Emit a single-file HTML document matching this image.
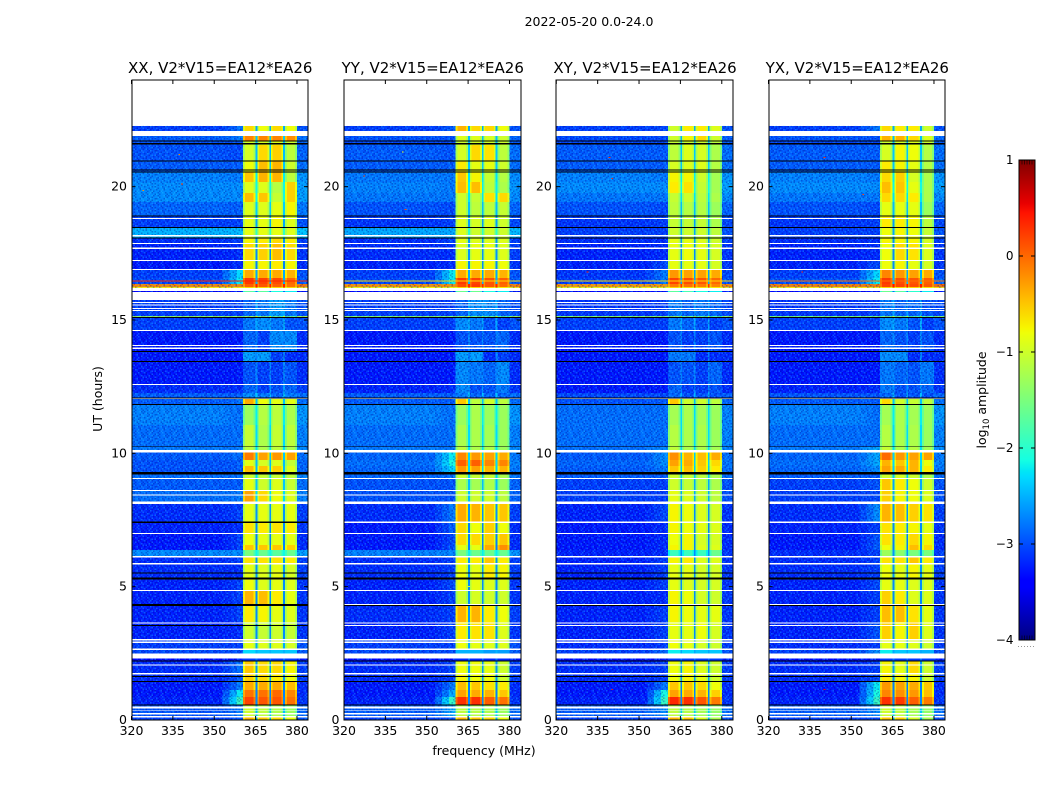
<!DOCTYPE html>
<html>
<head>
<meta charset="utf-8">
<title>2022-05-20 amplitude spectrogram</title>
<style>
html,body{margin:0;padding:0;background:#fff;}
svg{display:block;}
text{font-family:"DejaVu Sans","Liberation Sans",sans-serif;fill:#000;}
</style>
</head>
<body>
<svg id="chart" xmlns="http://www.w3.org/2000/svg" width="1050" height="800" viewBox="0 0 1050 800">
  <defs>
    <linearGradient id="jet-gradient" x1="0" y1="1" x2="0" y2="0"></linearGradient>
    <pattern id="bg-noise" patternUnits="userSpaceOnUse" x="0" y="0" width="24" height="24"></pattern>
  </defs>
  <rect x="0" y="0" width="1050" height="800" fill="#fff"/>
  <text x="589" y="26" font-size="12.5" text-anchor="middle">2022-05-20 0.0-24.0</text>
  <text transform="translate(102,399) rotate(-90)" font-size="12.5" text-anchor="middle">UT (hours)</text>
  <text x="484" y="755" font-size="12.5" text-anchor="middle">frequency (MHz)</text>
  <g id="panels"></g>
  <g id="colorbar"></g>
  <text transform="translate(986,400) rotate(-90)" font-size="12.5" text-anchor="middle">log<tspan font-size="8.5" dy="3">10</tspan><tspan dy="-3"> amplitude</tspan></text>
</svg>
<script>
// UT (hours) at the top edge of each band of rows
const rowTopsUT = [22.28,21.90,21.71,21.56,20.96,20.55,20.18,19.76,19.43,18.88,18.45,18.08,17.89,17.21,16.88,16.58,16.35,16.24,16.09,15.75,15.15,15.09,14.63,13.80,13.43,12.56,12.26,12.08,11.81,11.06,10.24,10.05,9.75,9.53,9.23,9.04,8.59,8.10,7.39,6.98,6.56,6.38,6.11,5.85,5.33,4.84,4.31,3.68,3.00,2.63,2.33,2.21,1.73,1.46,1.13,0.86,0.56,0.15];

// log10 amplitude per row band: background, sub-band 1-4, edge-of-band ramp
const rowsXX = [[-3.1,-.6,-.8,-.6,-.8,-2.85],[-2.95,-.15,-.15,-.15,-.2,-2.8],[-3.0,-.95,-.95,-.9,-1.0,-3.0],[-3.0,-.95,-.6,-.55,-1.1,-3.05],[-2.95,-.8,-.45,-.4,-1.0,-2.95],[-2.75,-.5,-.4,-.4,-1.1,-2.8],[-2.7,-.9,-.9,-1.15,-.55,-2.7],[-2.7,-.45,-.5,-1.05,-.55,-2.7],[-2.9,-.9,-.9,-.85,-.75,-2.95],[-3.1,-.85,-.85,-.75,-.9,-3.1],[-2.5,-.85,-.85,-.85,-.9,-2.45],[-3.2,-.75,-.7,-.6,-.7,-3.1],[-3.25,-.6,-.55,-.45,-.6,-3.2],[-3.3,-.75,-.75,-.7,-.75,-3.2],[-3.1,-.35,-.35,-.35,-.4,-2.3],[-3.05,.25,.2,.15,.0,-2.2],[-.15,.05,.1,.05,-.05,-.15],[-.7,-.6,-.6,-.6,-.6,-.7],[-3.4,-1.7,-1.7,-2.1,-2.2,-3.3],[-3.1,-2.9,-2.8,-2.6,-2.8,-3.1],[-1.3,-1.2,-1.4,-1.6,-1.6,-1.3],[-3.1,-2.8,-2.7,-2.8,-3.0,-3.1],[-3.3,-2.9,-3.1,-2.7,-2.7,-3.3],[-3.3,-2.6,-2.6,-3.1,-3.2,-3.3],[-3.3,-3.0,-3.1,-3.1,-3.0,-3.3],[-3.2,-2.9,-3.1,-3.0,-2.9,-3.2],[-2.95,-2.7,-2.8,-2.9,-2.8,-2.95],[-2.95,-.35,-.8,-.85,-.85,-2.85],[-2.75,-1.3,-1.15,-1.1,-1.2,-2.85],[-2.85,-1.05,-1.2,-1.05,-1.1,-2.85],[-2.8,-1.1,-1.2,-1.1,-1.2,-2.8],[-2.95,-.1,-.3,-.25,-.3,-2.85],[-3.0,-.85,-.95,-.9,-1.05,-2.95],[-3.0,-.45,-.5,-.55,-.9,-2.95],[-2.85,-1,-1.05,-1.05,-1.1,-2.85],[-2.95,-.85,-1.0,-.9,-1.05,-2.95],[-2.85,-.3,-.6,-.8,-.9,-2.8],[-3.2,-.85,-.85,-.85,-.85,-3.1],[-3.25,-.65,-.7,-.65,-.7,-3.2],[-3.3,-.8,-.85,-.85,-.85,-3.1],[-3.3,-.5,-.5,-.5,-.55,-3.1],[-2.7,-1.5,-1.6,-1.7,-1.6,-2.7],[-3.2,-.65,-.65,-.65,-.7,-3.1],[-3.2,-.85,-.9,-.85,-.95,-3.2],[-3.25,-.8,-.9,-.85,-.9,-3.1],[-3.25,-.4,-.45,-.7,-.85,-3.1],[-3.25,-.7,-.75,-.85,-.9,-3.1],[-3.25,-1.0,-1.05,-1.0,-1.05,-3.2],[-3.1,-.85,-.9,-.9,-.95,-3.1],[-3.05,-2.3,-2.4,-2.4,-2.4,-3.0],[-3.4,-3.1,-3.1,-3.1,-3.1,-3.3],[-3.2,-.5,-.6,-.6,-.75,-2.85],[-3.2,-.55,-.6,-.7,-.8,-3.0],[-3.3,-.35,-.35,-.35,-.45,-2.8],[-3.3,-.05,-.05,.0,-.15,-2.2],[-3.25,.2,.1,.1,-.05,-1.9],[-3.0,-1.0,-1.1,-1.2,-1.3,-2.8],[-3.1,-.4,-.5,-.6,-.8,-3.0]];
const rowsYY = [[-3.1,-.4,-.6,-.6,-.8,-2.95],[-3.0,-.9,-.9,-.95,-1.0,-3.0],[-3.05,-1,-1,-1,-1,-3.05],[-2.95,-.95,-.6,-.65,-1.1,-3.0],[-2.95,-.7,-.85,-.85,-1.0,-2.95],[-2.8,-.5,-.75,-1.05,-1.15,-2.8],[-2.75,-.45,-.45,-1.1,-1.2,-2.8],[-2.8,-1.0,-1.05,-.65,-.6,-2.8],[-3.0,-1.0,-1.1,-1.1,-1.05,-3.05],[-3.15,-.9,-.95,-.9,-1.0,-3.1],[-2.55,-.9,-1,-1,-1,-2.55],[-3.2,-.85,-.9,-.9,-.9,-3.1],[-3.2,-.9,-.85,-.85,-.9,-3.2],[-3.25,-.75,-.75,-.75,-.8,-3.2],[-3.1,-.35,-.35,-.35,-.4,-2.2],[-3.05,.25,.2,.1,.05,-2.2],[-.2,.15,.25,.1,.0,-.2],[-.75,-.6,-.6,-.6,-.7,-.75],[-3.4,-1.6,-1.6,-2.1,-2.2,-3.3],[-3.1,-2.9,-2.7,-2.7,-2.9,-3.1],[-1.4,-1.3,-1.5,-1.6,-1.7,-1.4],[-3.1,-2.7,-2.8,-3.0,-3.1,-3.1],[-3.3,-3.0,-3.0,-3.0,-2.9,-3.3],[-3.3,-2.6,-2.6,-3.2,-3.1,-3.3],[-3.3,-2.7,-2.8,-2.9,-2.7,-3.3],[-3.25,-2.7,-3.0,-3.0,-2.8,-3.2],[-2.95,-2.8,-2.9,-2.9,-2.9,-2.95],[-2.95,-.5,-1.1,-1.0,-1.1,-2.95],[-2.75,-1.3,-1.2,-1.3,-1.3,-2.85],[-2.85,-1.2,-1.2,-1.25,-1.3,-2.85],[-2.8,-1.1,-1.2,-1.2,-1.3,-2.8],[-2.9,-.15,-.25,-.3,-.35,-2.2],[-2.85,.05,.05,-.15,-.15,-2.1],[-2.9,-.25,-.3,-.4,-.4,-2.3],[-2.9,-1.0,-1.05,-1.05,-1.2,-2.85],[-3.0,-1.2,-1.25,-1.2,-1.3,-3.0],[-3.0,-1.0,-1.0,-1.0,-1.1,-3.0],[-3.2,-.35,-.4,-.5,-.5,-2.8],[-3.3,-.6,-.8,-.55,-.8,-2.95],[-3.3,-.6,-.6,-.55,-.5,-3.05],[-3.3,-.85,-.85,-.35,-.2,-3.0],[-2.75,-1.5,-1.6,-1.6,-1.6,-2.75],[-3.2,-.7,-.7,-.5,-.7,-3.1],[-3.2,-.8,-.85,-.7,-.75,-3.1],[-3.25,-.8,-.85,-.9,-.9,-3.05],[-3.25,-1.0,-.95,-1.0,-1.0,-3.1],[-3.2,-.4,-.4,-.7,-.8,-3.1],[-3.25,-.7,-.65,-.65,-.9,-3.1],[-3.1,-.8,-.85,-.9,-.9,-3.1],[-3.05,-2.5,-2.5,-2.6,-2.6,-3.05],[-3.4,-3.2,-3.2,-3.2,-3.2,-3.4],[-3.2,-.8,-.8,-.85,-1,-3.1],[-3.2,-.75,-.8,-.8,-1.0,-3.1],[-3.3,-.45,-.5,-.65,-.7,-2.8],[-3.3,-.3,-.35,-.4,-.5,-2.55],[-3.25,.3,.3,.05,-.05,-1.9],[-2.95,-1.1,-1.15,-1.2,-1.3,-2.55],[-3.1,-.4,-.5,-.6,-.8,-3.0]];
const rowsXY = [[-3.1,-1.0,-.7,-.7,-.9,-3.05],[-3.05,-1.0,-.75,-.6,-1.0,-3.05],[-3.05,-1.05,-1.0,-1.0,-1.1,-3.05],[-2.95,-1.1,-.9,-.95,-1.2,-2.95],[-2.95,-.95,-.9,-.9,-1.15,-2.95],[-2.75,-.75,-.75,-1.0,-1.25,-2.8],[-2.7,-.7,-.65,-1.05,-1.25,-2.7],[-2.8,-1.05,-1.0,-1.1,-1.2,-2.8],[-3.0,-1.1,-1.15,-1.15,-1.3,-3.05],[-3.15,-1.05,-1.05,-1.05,-1.2,-3.1],[-3.1,-1.0,-1.0,-1.0,-1.1,-3.1],[-3.2,-.85,-.85,-.9,-1.0,-3.2],[-3.25,-.85,-.8,-.85,-.95,-3.2],[-3.25,-.85,-.85,-.85,-.95,-3.05],[-3.15,-.25,-.3,-.3,-.35,-2.8],[-3.1,.2,.15,.1,.0,-2.8],[-.25,-.1,-.05,-.1,-.15,-.25],[-.75,-.6,-.65,-.65,-.7,-.75],[-3.4,-1.7,-1.8,-2.1,-2.2,-3.3],[-3.15,-2.8,-2.9,-2.8,-2.9,-3.1],[-1.4,-1.3,-1.5,-1.6,-1.7,-1.4],[-3.1,-2.8,-2.9,-3.0,-3.1,-3.1],[-3.3,-3.0,-3.1,-3.1,-3.0,-3.3],[-3.3,-2.8,-2.8,-3.2,-3.2,-3.3],[-3.3,-3.0,-3.0,-3.1,-2.9,-3.3],[-3.3,-2.9,-3.1,-3.1,-3.0,-3.3],[-3.05,-2.9,-3.0,-3.0,-3.0,-3.05],[-3.0,-.5,-1.0,-1.0,-1.1,-2.95],[-2.85,-1.25,-1.2,-1.25,-1.3,-2.85],[-2.85,-1.15,-1.2,-1.2,-1.3,-2.85],[-2.85,-1.1,-1.2,-1.2,-1.25,-2.7],[-2.95,-.2,-.4,-.45,-.35,-2.7],[-2.9,-.3,-.35,-.5,-.6,-2.7],[-2.95,-.5,-.45,-.55,-.7,-2.8],[-2.95,-1.0,-1.05,-1.1,-1.2,-2.95],[-3.1,-1.0,-1.05,-1.1,-1.2,-3.1],[-3.1,-.85,-.9,-1.0,-1.1,-3.1],[-3.25,-.75,-.8,-.9,-.95,-3.05],[-3.3,-.75,-.8,-.85,-.9,-3.2],[-3.3,-.8,-.75,-.95,-.95,-3.2],[-3.3,-.75,-.75,-.9,-.9,-3.2],[-3.25,-1.9,-1.9,-1.9,-1.6,-3.2],[-3.25,-.75,-.7,-.9,-.9,-3.1],[-3.25,-.85,-.85,-.95,-.95,-3.1],[-3.25,-.85,-.9,-.95,-.95,-3.1],[-3.25,-.75,-.8,-.95,-1.0,-3.2],[-3.25,-.75,-.8,-.85,-.85,-3.1],[-3.25,-.85,-.85,-.8,-.95,-3.1],[-3.2,-.8,-.85,-.95,-1,-3.1],[-3.1,-2.2,-2.3,-2.4,-2.4,-2.9],[-3.4,-3.1,-3.1,-3.1,-3.1,-3.3],[-3.2,-.8,-.75,-.9,-1.0,-3.1],[-3.2,-.8,-.75,-.85,-1.0,-3.1],[-3.3,-.5,-.5,-.6,-.8,-2.8],[-3.3,-.3,-.35,-.4,-.55,-2.1],[-3.25,.35,.3,.1,-.1,-1.9],[-2.95,-1.1,-1.15,-1.25,-1.35,-2.7],[-3.1,-.4,-.5,-.9,-1.2,-3.05]];
const rowsYX = [[-3.1,-.6,-.7,-.7,-1.0,-2.8],[-3.0,-.4,-.4,-.6,-.9,-3.0],[-3.05,-1,-.95,-.9,-1.0,-3.05],[-2.95,-.95,-.75,-.8,-1.15,-2.95],[-2.95,-.7,-.75,-.85,-1.15,-2.95],[-2.75,-.6,-.55,-.95,-1.2,-2.8],[-2.7,-.45,-.5,-.85,-1.2,-2.7],[-2.8,-.6,-.6,-.7,-1.2,-2.8],[-3.0,-.85,-.85,-.85,-1.3,-3.05],[-3.15,-.7,-.7,-.75,-1.1,-3.1],[-3.1,-.8,-.75,-.8,-1.05,-3.1],[-3.2,-.75,-.75,-.75,-.95,-3.2],[-3.25,-.8,-.6,-.65,-.9,-3.2],[-3.25,-.8,-.75,-.85,-.95,-3.05],[-3.1,-.15,-.25,-.3,-.35,-2.3],[-3.0,.25,.15,.1,.05,-2.2],[-.1,.2,.2,.15,.1,-.1],[-.7,-.6,-.6,-.6,-.65,-.7],[-3.4,-1.6,-1.7,-2.0,-2.2,-3.3],[-3.15,-2.8,-2.9,-2.9,-3.0,-3.1],[-1.5,-1.4,-1.5,-1.7,-1.7,-1.5],[-3.1,-2.7,-2.8,-3.0,-3.1,-3.1],[-3.3,-2.9,-3.0,-3.1,-3.0,-3.3],[-3.3,-2.7,-2.7,-3.2,-3.2,-3.3],[-3.3,-2.8,-2.9,-3.0,-2.8,-3.3],[-3.25,-2.8,-3.0,-3.0,-2.9,-3.2],[-3.0,-2.9,-3.0,-3.0,-3.0,-3.0],[-2.95,-.6,-1.0,-1.05,-1.1,-2.95],[-2.75,-1.25,-1.2,-1.25,-1.3,-2.85],[-2.85,-1.15,-1.2,-1.2,-1.3,-2.85],[-2.8,-1.05,-1.2,-1.15,-1.25,-2.55],[-2.9,.0,-.25,-.3,-.3,-2.55],[-2.85,-.4,-.5,-.4,-.8,-2.55],[-2.9,-.3,-.35,-.4,-.7,-2.7],[-2.95,-1.0,-.95,-1.0,-1.2,-2.95],[-3.1,-.5,-.7,-.8,-1.0,-3.0],[-3.1,-.55,-.75,-.8,-.9,-3.05],[-3.2,-.4,-.45,-.55,-.65,-2.7],[-3.25,-.65,-.7,-.75,-.85,-3.1],[-3.3,-.65,-.7,-.6,-.75,-3.0],[-3.3,-.8,-.75,-.45,-.6,-2.95],[-3.2,-1.3,-1.4,-1.5,-1.5,-3.1],[-3.2,-.65,-.65,-.5,-.7,-3.1],[-3.2,-.8,-.85,-.75,-.85,-3.1],[-3.25,-.85,-.85,-.9,-.9,-3.05],[-3.25,-.55,-.7,-.9,-.9,-3.1],[-3.25,-.45,-.45,-.65,-.85,-3.1],[-3.25,-.55,-.75,-.55,-.9,-3.0],[-3.2,-.85,-.85,-.9,-1,-3.1],[-3.1,-2.2,-2.4,-2.4,-2.5,-2.7],[-3.4,-3.1,-3.1,-3.1,-3.1,-3.3],[-3.2,-.75,-.85,-.6,-1.0,-3.1],[-3.2,-.7,-.75,-.75,-1.0,-3.05],[-3.3,-.25,-.3,-.35,-.5,-2.2],[-3.3,-.15,-.2,-.25,-.45,-2.1],[-3.25,.3,.25,.05,-.1,-1.9],[-2.95,-1.0,-1.1,-1.25,-1.35,-2.7],[-3.1,-.5,-.55,-.95,-1.2,-3.05]];

// rows with no data (white) and strongly flagged rows (black), as [start UT, end UT]
const whiteFlagsUT = [[22.09,21.90],[18.83,18.79],[18.19,18.14],[17.89,17.85],[17.71,17.67],[17.25,17.21],[16.91,16.88],[16.20,16.09],[16.05,15.75],[15.68,15.64],[15.58,15.54],[15.45,15.41],[15.38,15.34],[14.63,14.59],[14.06,14.03],[13.96,13.92],[12.60,12.56],[12.06,12.03],[10.13,10.04],[9.08,9.03],[8.63,8.58],[8.46,8.41],[8.19,8.10],[7.44,7.39],[7.02,6.98],[6.15,6.10],[5.89,5.84],[4.88,4.83],[4.35,4.31],[3.66,3.61],[3.56,3.53],[3.04,2.99],[2.94,2.89],[2.69,2.63],[2.50,2.31],[2.09,2.04],[1.76,1.71],[0.50,0.44],[0.36,0.33],[0.26,0.20],[0.15,0.09]];
const blackFlagsUT = [[21.74,21.70],[21.63,21.59],[20.99,20.95],[20.64,20.61],[20.56,20.53],[18.92,18.88],[18.49,18.45],[18.10,18.06],[15.11,15.08],[13.84,13.80],[13.46,13.43],[12.09,12.06],[11.85,11.81],[10.26,10.23],[9.30,9.21],[5.54,5.50],[5.34,5.27],[4.31,4.28],[2.24,2.20],[1.65,1.61],[1.46,1.43],[0.59,0.55]];
const blackFlagsXX = [[7.44,7.39],[3.56,3.53],[4.35,4.31]];

// thin full-width interference lines: [UT, log10 amplitude]
const linesXX = [[16.47,0.35]];
const linesYY = [[16.47,-0.6]];
const linesXY = [[16.47,-0.6]];
const linesYX = [[16.47,-0.05]];

// isolated bright spikes: [MHz, UT, log10 amplitude]
const spikesXX = [[351,21.98,-.6],[337,21.2,-.1],[338,20.1,.2],[324,19.85,-.2]];
const spikesYY = [[341,21.3,-.8],[327,20.4,.1],[342,19.15,.2],[365,5,-.9]];
const spikesXY = [[352,21.98,-.8],[339,21.1,.3],[340,20.3,.4],[331,16.8,.4],[340,1.15,.5]];
const spikesYX = [[352,21.98,-.8],[340,21.1,.3],[329,20.55,.4],[354,19.7,.2],[332,16.8,.4],[340,1.15,.5]];

// frequency edges (MHz)
const bandEdges = [[360.5,365],[365.6,370],[370.5,375],[375.6,380]];
const panelTitles = ["XX, V2*V15=EA12*EA26","YY, V2*V15=EA12*EA26","XY, V2*V15=EA12*EA26","YX, V2*V15=EA12*EA26"];
const xTicks = [320,335,350,365,380];
const yTicks = [0,5,10,15,20];
const cbTicks = [1,0,-1,-2,-3,-4];
// hand-placed speckle tile for the background: 0 none, 1 dark, 2 light, 3 bright
const noiseTile = ["0120310201203012","2013002130120201","1200231021002310","0312010203120021","2001302110200130","0210012030012203","1032100201320100","0201230310021032","3100201021003102","0120130020310201","2003012102001230","0312000321020013","1020310100231002","0201002301020130","2130120012003102","0012031020130020"];

const COL = {
  jetR:[[0,0],[.35,0],[.66,1],[.89,1],[1,.5]],
  jetG:[[0,0],[.125,0],[.375,1],[.64,1],[.91,0],[1,0]],
  jetB:[[0,.5],[.11,1],[.34,1],[.65,0],[1,0]]
};
function lerp(tab,t){
  for(let i=1;i<tab.length;i++){
    if(t<=tab[i][0]){
      const a=tab[i-1],b=tab[i];
      return a[1]+(b[1]-a[1])*(t-a[0])/(b[0]-a[0]);
    }
  }
  return tab[tab.length-1][1];
}
function jet(v){
  const t=Math.max(0,Math.min(1,(v+4)/5));
  const c=x=>Math.round(255*x);
  return 'rgb('+c(lerp(COL.jetR,t))+','+c(lerp(COL.jetG,t))+','+c(lerp(COL.jetB,t))+')';
}

const NS='http://www.w3.org/2000/svg';
function mk(tag,attrs,parent){
  const e=document.createElementNS(NS,tag);
  for(const k in attrs)e.setAttribute(k,attrs[k]);
  if(parent)parent.appendChild(e);
  return e;
}
const PANEL_W=176.5, Y0=720, PX_PER_H=26.667, PX_PER_MHZ=PANEL_W/64;
const yScale=ut=>Y0-ut*PX_PER_H;
const xScale=(mhz,left)=>left+(mhz-320)*PX_PER_MHZ;
const cbY=v=>640-(v+4)*96;

// gradient for colorbar
const grad=document.getElementById('jet-gradient');
[-4,-3.45,-3.375,-2.3,-2.125,-2.25,-1.75,-1.125,-0.8,-0.75,-0.45,0.45,0.55,1].sort((a,b)=>a-b).forEach(v=>{
  const stop=mk('stop',{offset:((v+4)/5).toFixed(4),'stop-color':jet(v)},grad);
  
  
});

// noise pattern
const pat=document.getElementById('bg-noise');
const noiseFill={1:['#000090',.3],2:['#00a0ff',.2],3:['#20d0ff',.34]};
noiseTile.forEach((row,j)=>{
  row.split('').forEach((ch,i)=>{
    if(ch==='0')return;
    const cell=mk('rect',{x:i*1.5,y:j*1.5,width:1.5,height:1.5,fill:noiseFill[ch][0],'fill-opacity':noiseFill[ch][1]},pat);
    
    
  });
});

function addCell(g,left,f0,f1,ut0,ut1,v){
  const x0=xScale(f0,left),x1=xScale(f1,left),y0=yScale(ut0),y1=yScale(ut1);
  const r=mk('rect',{x:x0.toFixed(2),y:y0.toFixed(2),width:(x1-x0).toFixed(2),height:(y1-y0).toFixed(2),fill:jet(v),'shape-rendering':'crispEdges'},g);
  
  
  return r;
}

function drawPanel(idx,left,rows,lines,spikes,extraBlack,key){
  const p=mk('g',{},document.getElementById('panels'));
  
  
  const cells=mk('g',{},p);
  
  
  rows.forEach((r,i)=>{
    const top=rowTopsUT[i], bot=i+1<rowTopsUT.length?rowTopsUT[i+1]:0;
    const bg=r[0], ramp=r[5];
    addCell(cells,left,320,353,top,bot,bg);
    addCell(cells,left,353,355.5,top,bot,bg+(ramp-bg)*.3);
    addCell(cells,left,355.5,358,top,bot,bg+(ramp-bg)*.65);
    addCell(cells,left,358,360.5,top,bot,ramp);
    bandEdges.forEach((e,b)=>{
      const v=r[b+1];
      const edge=v>-2?v-.3:v;
      addCell(cells,left,e[0],e[0]+.7,top,bot,edge);
      addCell(cells,left,e[0]+.7,e[1]-.7,top,bot,v);
      addCell(cells,left,e[1]-.7,e[1],top,bot,edge);
      if(b<3)addCell(cells,left,e[1],bandEdges[b+1][0],top,bot,bg+.55);
    });
    addCell(cells,left,380,384,top,bot,bg+.1);
  });
  const dataTop=yScale(rowTopsUT[0]), dataH=yScale(0)-dataTop;
  const n1=mk('rect',{x:xScale(320,left),y:dataTop,width:xScale(360.5,left)-xScale(320,left),height:dataH,fill:'url(#bg-noise)'},p);
  
  
  const n2=mk('rect',{x:xScale(380,left),y:dataTop,width:xScale(384,left)-xScale(380,left),height:dataH,fill:'url(#bg-noise)'},p);
  
  
  const quietTop=yScale(rowTopsUT[19]), quietBot=yScale(rowTopsUT[27]);
  const n3=mk('rect',{x:xScale(360.5,left),y:quietTop,width:xScale(380,left)-xScale(360.5,left),height:quietBot-quietTop,fill:'url(#bg-noise)'},p);
  
  
  lines.forEach(l=>{
    const c=addCell(p,left,320,384,l[0]+.019,l[0]-.019,l[1]);
    
  });
  spikes.forEach(s=>{
    const c=addCell(p,left,s[0],s[0]+.6,s[1]+.02,s[1]-.02,s[2]);
    
  });
  whiteFlagsUT.forEach(f=>{
    const w=mk('rect',{x:left,y:yScale(f[0]).toFixed(2),width:PANEL_W,height:(yScale(f[1])-yScale(f[0])).toFixed(2),fill:'#fff','shape-rendering':'crispEdges'},p);
    
    
  });
  blackFlagsUT.concat(extraBlack).forEach(f=>{
    const b=mk('rect',{x:left,y:yScale(f[0]).toFixed(2),width:PANEL_W,height:(yScale(f[1])-yScale(f[0])).toFixed(2),fill:'#000','shape-rendering':'crispEdges'},p);
    
    
  });
  // frame (sits on integer pixels so it antialiases to a soft grey, as in the original)
  const fx0=Math.round(left), fx1=Math.round(left+PANEL_W);
  const frame=mk('rect',{x:fx0,y:80,width:fx1-fx0,height:640,fill:'none',stroke:'#000','stroke-width':1},p);
  
  
  // ticks
  xTicks.forEach(t=>{
    const x=xScale(t,left);
    const a=mk('line',{x1:x,x2:x,y1:720,y2:716,stroke:'#000','stroke-width':1},p);
    
    
    const b=mk('line',{x1:x,x2:x,y1:80,y2:84,stroke:'#000','stroke-width':1},p);
    
    
    const l=mk('text',{x:x,y:735,'font-size':12.5,'text-anchor':'middle'},p);
    l.textContent=String(t);
    
    
  });
  yTicks.forEach(t=>{
    const y=yScale(t);
    const a=mk('line',{x1:left,x2:left+4,y1:y,y2:y,stroke:'#000','stroke-width':1},p);
    
    
    const b=mk('line',{x1:left+PANEL_W,x2:left+PANEL_W-4,y1:y,y2:y,stroke:'#000','stroke-width':1},p);
    
    
    const l=mk('text',{x:left-4.5,y:y+4,'font-size':12.5,'text-anchor':'end'},p);
    l.textContent=String(t);
    
    
  });
  const title=mk('text',{x:left+PANEL_W/2+.5,y:73,'font-size':15,'text-anchor':'middle'},p);
  title.textContent=panelTitles[idx];
  
  
}
drawPanel(0,131.5,rowsXX,linesXX,spikesXX,blackFlagsXX,'xx');
drawPanel(1,344,rowsYY,linesYY,spikesYY,[],'yy');
drawPanel(2,556.3,rowsXY,linesXY,spikesXY,[],'xy');
drawPanel(3,768.5,rowsYX,linesYX,spikesYX,[],'yx');

// colorbar
const cb=document.getElementById('colorbar');
const cbBody=mk('rect',{x:1019,y:160,width:16,height:480,fill:'url(#jet-gradient)',stroke:'#000','stroke-width':1},cb);


cbTicks.forEach(t=>{
  const y=cbY(t);
  const a=mk('line',{x1:1019,x2:1023,y1:y,y2:y,stroke:'#000','stroke-width':1},cb);
  
  
  const b=mk('line',{x1:1035,x2:1031,y1:y,y2:y,stroke:'#000','stroke-width':1},cb);
  
  
  const l=mk('text',{x:1013.5,y:y+4,'font-size':12,'text-anchor':'end'},cb);
  l.textContent=t<0?'\u2212'+Math.abs(t):String(t);
  
  
});
[1022,1024.5,1027,1029.5,1032].forEach(x=>{
  const a=mk('line',{x1:x,x2:x,y1:160,y2:164.5,stroke:'#000','stroke-opacity':.7,'stroke-width':.8},cb);
  
  
  const b=mk('line',{x1:x,x2:x,y1:640,y2:635.5,stroke:'#000','stroke-opacity':.7,'stroke-width':.8},cb);
  
  
});
const dots=mk('line',{x1:1018,x2:1035,y1:646.5,y2:646.5,stroke:'#999','stroke-width':1,'stroke-dasharray':'1 2'},cb);


</script>
</body>
</html>
